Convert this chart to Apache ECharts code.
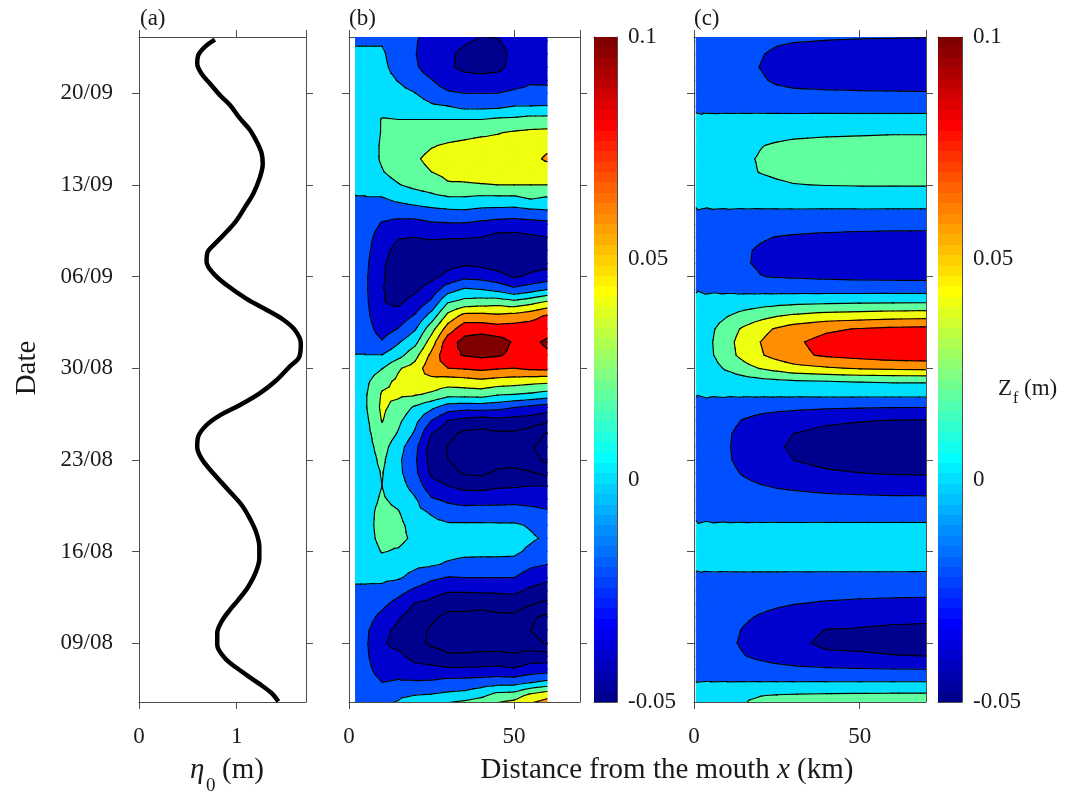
<!DOCTYPE html>
<html><head><meta charset="utf-8">
<script src="https://cdn.jsdelivr.net/npm/echarts@6.0.0/dist/echarts.min.js"></script>
<style>html,body{margin:0;padding:0;background:#fff;}#chart{width:1065px;height:797px;}</style>
</head><body><div id="chart"></div>
<script>
// ---------------- DATA ----------------
// Time is counted in days of August (1 Sep = 32).
const dateTickDays   = [9, 16, 23, 30, 37, 44, 51];
const dateTickLabels = ['09/08', '16/08', '23/08', '30/08', '06/09', '13/09', '20/09'];

// Panel (a): eta_0 (m) against time
const etaDay = [4.54,5.18,5.94,6.83,7.85,8.87,9.76,10.65,11.54,12.3,13.3,14.46,15.48,16.37,17.5,18.5,19.55,20.7,21.97,23.1,24.0,24.77,25.66,26.4,27.19,28.1,29.1,30.1,30.9,31.9,32.9,33.7,34.45,35.3,36.35,37.25,38.14,38.8,39.5,40.55,41.3,42.3,43.35,44.6,45.6,46.4,47.3,48.2,49.08,50.1,50.86,51.75,52.5,53.3,53.9,54.55,55.1];
const etaVal = [1.427,1.358,1.222,1.051,0.88,0.801,0.801,0.846,0.931,1.017,1.119,1.198,1.232,1.232,1.198,1.136,1.051,0.914,0.76,0.64,0.596,0.606,0.692,0.828,1.034,1.239,1.41,1.54,1.643,1.657,1.598,1.478,1.308,1.102,0.897,0.76,0.692,0.699,0.777,0.914,1.0,1.085,1.171,1.239,1.267,1.256,1.205,1.136,1.034,0.931,0.828,0.726,0.64,0.596,0.606,0.675,0.777];

// Grid rows (days), shared by panels (b) and (c): 56 down to 4
const gridDays = [56,55,54,53,52,51,50,49,48,47,46,45,44,43,42,41,40,39,38,37,36,35,34,33,32,31,30,29,28,27,26,25,24,23,22,21,20,19,18,17,16,15,14,13,12,11,10,9,8,7,6,5,4];

// Panel (b): Z_f in mm, one array per distance x (km), values for gridDays
const xB = [2,5,10,15,20,25,30,35,40,45,50,55,60];
const zfB_x02 = [-4,-2,3,2,3,3,4,5,6,7,7,6,4,-1,-3,-5,-7,-8,-9,-10,-10,-9,-8,-6,-3,0.3,5,9,11,11,10,9,8,7,7,7,8,8,8,8,6,3,1,-1,-4,-7,-9,-10,-9,-8,-6,-4,-3];
const zfB_x05 = [-5,-2,3,3,4,5,6,8,10,11,11,10,6,-1,-5,-9,-12,-14,-16,-17,-17,-16,-14,-10,-5,0.3,8,15,18,18,15,13,12,11,11,12,13,14,14,13,10,5,2,-2,-7,-12,-16,-17,-16,-13,-9,-6,-5];
const zfB_x10 = [-6,-2,3,5,7,9,12,21,21,22,22,19,12,-1,-12,-22,-30,-34,-37,-38,-39,-39,-36,-30,-18,0.3,19,34,42,44,41,34,28,24,21,20,22,25,26,25,21,12,4,-5,-15,-25,-34,-38,-36,-30,-20,-8,3];
const zfB_x15 = [-12,-12,-11,-8,-1,6,14,20,25,28,29,27,19,5,-10,-27,-39,-46,-50,-51,-48,-43,-32,-19,-2,13,38,44,44,32,24,18,8,4,5,9,15,21,25,25,18,8,2,-13,-27,-38,-45,-45,-36,-26,-18,-3,5];
const zfB_x20 = [-16,-18,-19,-17,-10,0.5,10,20,28,34,38,35,25,10,-8,-28,-40,-48,-52,-50,-43,-33,-18,-2,14,33,48,55,42,17,6,-3,-14,-17,-15,-8,2,6,12,16,10,4,-6,-24,-41,-50,-55,-54,-46,-34,-18,0.3,18];
const zfB_x25 = [-27,-29,-32,-31,-19,-10,3,20,30,39,44,40,30,14,-5,-23,-38,-48,-52,-45,-32,-15,8,32,50,65,74,52,37,4,-20,-40,-49,-48,-44,-32,-18,-2,6,10,7,2,-16,-33,-45,-57,-62,-63,-52,-34,-17,2,30];
const zfB_x30 = [-30,-33,-37,-38,-32,-17,0.5,20,33,42,46,45,38,18,-3,-22,-39,-48,-46,-35,-8,20,46,70,92,96,80,50,27,-10,-40,-55,-61,-60,-54,-40,-24,-11,3,8,5,-2,-21,-38,-54,-64,-68,-66,-58,-37,-13,5,32];
const zfB_x35 = [-33,-38,-44,-43,-35,-20,-5,20,35,44,48,47,38,18,-2,-22,-39,-50,-43,-25,3,28,67,92,106,101,82,52,28,-13,-46,-64,-68,-67,-62,-46,-28,-12,3,8,5,-6,-20,-38,-54,-64,-68,-66,-58,-37,-12,7,40];
const zfB_x40 = [-38,-42,-47,-45,-35,-20,-5,20,37,46,50,49,39,16,-5,-25,-40,-54,-45,-27,0.5,31,67,92,112,104,85,55,29,-12,-50,-66,-70,-69,-64,-47,-27,-12,3,8,5,-7,-20,-37,-55,-66,-70,-68,-56,-36,-10,15,45];
const zfB_x45 = [-35,-41,-46,-44,-34,-20,-4,23,39,46,50,49,40,16,-6,-28,-46,-58,-50,-33,-5,33,64,89,108,102,82,52,22,-14,-46,-63,-68,-67,-57,-43,-26,-13,3,8,5,-7,-20,-37,-52,-64,-68,-67,-56,-35,-8,28,50];
const zfB_x50 = [-35,-35,-36,-35,-30,-16,0.5,24,42,49,52,50,40,16,-7,-30,-46,-56,-55,-42,-15,28,67,90,98,96,80,50,20,-20,-48,-63,-70,-68,-55,-42,-25,-13,3,8,4,-7,-20,-36,-50,-64,-72,-70,-57,-38,-8,30,58];
const zfB_x55 = [-30,-29,-28,-26,-23,-14,0.5,27,44,52,56,52,40,22,-4,-28,-43,-50,-47,-37,-8,35,73,90,97,94,84,47,17,-25,-50,-68,-78,-74,-58,-40,-26,-15,-2,3,-4,-16,-30,-44,-58,-77,-80,-74,-50,-32,-1,46,70];
const zfB_x60 = [-30,-30,-28,-26,-23,-15,1,27,45,57,62,53,40,18,-2,-26,-40,-50,-46,-32,0.5,45,82,95,102,98,85,45,12,-30,-56,-82,-88,-84,-65,-40,-27,-18,-9,-3,-12,-20,-36,-48,-65,-84,-88,-82,-50,-30,5,55,75];

// Panel (c): Z_f in mm, one row per gridDays entry, columns at xC (km)
const xC = [0.7,5,10,15,20,25,30,40,50,60,70];
const zfC_rows = [
  [-0.5,-3.2,-6.1,-9.5,-11.9,-14.5,-15.6,-16.3,-16.7,-16.8,-17],
  [-0.6,-4,-7.6,-11.8,-14.7,-17.9,-19.3,-20.2,-20.6,-20.8,-21],
  [-0.8,-5.1,-9.7,-15.1,-18.9,-23,-24.8,-25.9,-26.5,-26.7,-27],
  [-0.9,-5.5,-10.4,-16.2,-20.3,-24.7,-26.7,-27.8,-28.4,-28.7,-29],
  [-0.8,-4.9,-9.4,-14.6,-18.2,-22.1,-23.9,-25,-25.5,-25.7,-26],
  [-0.6,-3.6,-6.8,-10.6,-13.3,-16.2,-17.5,-18.2,-18.6,-18.8,-19],
  [-0.2,-1.5,-2.9,-4.5,-5.6,-6.8,-7.4,-7.7,-7.8,-7.9,-8],
  [0.2,1.3,2.5,4,5,5.8,6.3,6.6,6.8,6.9,7],
  [0.6,4,8,12,15,16,17,18,18.5,19,19],
  [0.8,6,11,16,19.5,21.5,23,24,24.5,25,25],
  [0.8,6,12,18,21,23.5,25,26,26.5,27,27],
  [0.8,6,11,17,20.5,22.5,24,25,25.5,26,26],
  [0.6,5,9,13,16,18,19.5,20.5,21,21,21],
  [0.3,1.9,3.6,5.8,7.2,8.1,8.7,9.3,9.7,9.9,10],
  [-0.1,-0.4,-0.7,-1.2,-1.5,-1.6,-1.7,-1.9,-1.9,-2,-2],
  [-0.5,-2.9,-5.4,-9,-11,-12.3,-13,-14,-14.6,-14.9,-15],
  [-0.8,-4.8,-9,-15,-18.3,-20.5,-21.8,-23.3,-24.3,-24.8,-25],
  [-0.9,-5.7,-10.8,-18,-21.9,-24.6,-26.1,-27.9,-29.1,-29.7,-30],
  [-0.9,-5.8,-11,-18.3,-22.3,-25,-26.5,-28.4,-29.6,-30.2,-30.5],
  [-0.8,-4.8,-9,-15,-19.5,-21,-21.8,-23.3,-24.3,-24.8,-25],
  [-0.2,-1.5,-2.9,-4.8,-5.8,-6.6,-7,-7.4,-7.8,-7.9,-8],
  [0.6,3.8,7.2,10,12.6,14.6,16.2,18,19,19.8,20],
  [1.6,10,19,27,33,39,43,48,50,52,53],
  [2.6,16,31,43,54,62,69,77,81,84,85],
  [2.9,18,34,48,60,69,77,86,90,94,95],
  [2.8,17,33,46,58,67,75,83,87,91,92],
  [2,12,23,33,41,47,53,58,62,64,65],
  [0.7,4,8,11,14,16,18,20,21,22,22],
  [0.15,1,1.8,2.5,3.2,3.7,4,4.5,4.8,5,5],
  [-0.6,-3.8,-7,-10.4,-13,-14.8,-16,-18,-19,-19.8,-20],
  [-1.2,-7.8,-14.4,-21.3,-26.7,-30.3,-32.8,-36.9,-39,-40.6,-41],
  [-1.5,-9.5,-17.5,-26,-32.5,-37,-40,-45,-47.5,-49.5,-50],
  [-1.6,-9.9,-18.2,-27,-33.8,-38.5,-41.6,-46.8,-49.4,-51.5,-52],
  [-1.5,-9.5,-17.5,-26,-32.5,-37,-40,-45,-47.5,-49.5,-50],
  [-1.3,-8,-14.7,-21.8,-27.3,-31.1,-33.6,-37.8,-39.9,-41.6,-42],
  [-0.9,-5.5,-10.2,-15.1,-18.9,-21.5,-23.2,-26.1,-27.6,-28.7,-29],
  [-0.5,-3.2,-6,-8.8,-11,-12.6,-13.6,-15.3,-16.2,-16.8,-17],
  [-0.2,-1.3,-2.5,-3.6,-4.6,-5.2,-5.6,-6.3,-6.7,-6.9,-7],
  [0.1,0.4,0.7,1,1.3,1.5,1.6,1.8,1.9,2,2],
  [0.3,1.9,3.5,5,6.5,7.4,8,9,9.5,9.9,10],
  [0.4,2.3,4.2,6.2,7.8,8.9,9.6,10.8,11.4,11.9,12],
  [0.2,1.1,2.1,3,3.9,4.4,4.8,5.4,5.7,5.9,6],
  [-0.2,-0.9,-1.7,-2.4,-3,-3.5,-3.9,-4.4,-4.7,-4.9,-5],
  [-0.5,-2.7,-5.1,-7.2,-9,-10.5,-11.7,-13.2,-14.1,-14.7,-15],
  [-0.8,-4.5,-8.5,-12,-15,-17.5,-19.5,-22,-23.5,-24.5,-25],
  [-1.1,-6.5,-12.2,-17.3,-21.6,-25.2,-28,-31.7,-33.8,-35.3,-36],
  [-1.3,-7.9,-15,-21.1,-26.4,-30.8,-34.3,-40.5,-41.4,-43.1,-44],
  [-1.4,-8.5,-16,-22.6,-28.2,-32.9,-36.7,-43,-44.2,-46.1,-47],
  [-1.2,-7.2,-13.6,-19.2,-24,-28,-31.2,-37,-37.6,-39.2,-40],
  [-0.6,-3.6,-6.8,-9.6,-12,-14,-15.6,-17.6,-18.8,-19.6,-20],
  [0.03,0.2,0.35,0.5,0.6,0.7,0.8,0.9,0.95,1,1],
  [0.7,9,14,17,19.5,21,22,23,23.5,24,24],
  [1,12,19,21,28,30,32,33.5,34,35,35]
];

// Contour levels (mm) and colour-bar ticks (m)
const contourLevels = [-100,-80,-60,-40,-20,0,20,40,60,80,100,120];
const fillLevels = [-40,-20,0,20,40,60,80,100];
const cbTicks = [-0.05, 0, 0.05, 0.1];

// ---------------- helpers ----------------
const FONT = "'Liberation Serif','Times New Roman',serif";
const AX = '#4d4d4d';
const TXT = '#1a1a1a';
const CLIM = [-0.05, 0.1];

function jet64(k) {
  let r, g, b;
  if (k <= 8) { r = 0; g = 0; b = 0.5 + 0.0625 * k; }
  else if (k <= 24) { r = 0; g = (k - 8) * 0.0625; b = 1; }
  else if (k <= 40) { r = (k - 24) * 0.0625; g = 1; b = 1 - (k - 24) * 0.0625; }
  else if (k <= 56) { r = 1; g = 1 - (k - 40) * 0.0625; b = 0; }
  else { r = 1 - (k - 56) * 0.0625; g = 0; b = 0; }
  return 'rgb(' + Math.round(r * 255) + ',' + Math.round(g * 255) + ',' + Math.round(b * 255) + ')';
}
function levelColor(mm) {
  const t = (mm / 1000 - CLIM[0]) / (CLIM[1] - CLIM[0]);
  let k = Math.floor(t * 64 + 1e-9) + 1;
  k = Math.max(1, Math.min(64, k));
  return jet64(k);
}
const FILL_BANDS = [{ lo: -Infinity, hi: fillLevels[0], color: levelColor(-60) }];
fillLevels.forEach((lo, k) => {
  FILL_BANDS.push({ lo: lo, hi: k + 1 < fillLevels.length ? fillLevels[k + 1] : Infinity, color: levelColor(lo) });
});

function clipPoly(poly, level, keepAbove) {
  const out = [];
  for (let i = 0; i < poly.length; i++) {
    const P = poly[i], Q = poly[(i + 1) % poly.length];
    const pin = keepAbove ? P[2] >= level : P[2] <= level;
    const qin = keepAbove ? Q[2] >= level : Q[2] <= level;
    if (pin) out.push(P);
    if (pin !== qin) {
      const f = (level - P[2]) / (Q[2] - P[2]);
      out.push([P[0] + f * (Q[0] - P[0]), P[1] + f * (Q[1] - P[1]), level]);
    }
  }
  return out;
}

function contourSeries(xs, ts, grid, xi, yi, kind) {
  const data = [];
  for (let j = 0; j < ts.length - 1; j++)
    for (let i = 0; i < xs.length - 1; i++) data.push([xs[i], ts[j], i, j]);
  return {
    type: 'custom', xAxisIndex: xi, yAxisIndex: yi, clip: true, silent: true,
    animation: false, progressive: 0, z: kind === 'fill' ? 2 : 3,
    encode: { x: 0, y: 1 }, data: data,
    renderItem: function (params, api) {
      const i = api.value(2), j = api.value(3);
      const P = (a, b) => [xs[a], ts[b], grid[b][a]];
      const p00 = P(i, j), p10 = P(i + 1, j), p11 = P(i + 1, j + 1), p01 = P(i, j + 1);
      const c = [(p00[0] + p10[0]) / 2, (p00[1] + p01[1]) / 2, (p00[2] + p10[2] + p11[2] + p01[2]) / 4];
      const tris = [[p00, p10, c], [p10, p11, c], [p11, p01, c], [p01, p00, c]];
      const toPx = p => api.coord([p[0], p[1]]);
      const children = [];
      if (kind === 'fill') {
        tris.forEach(tri => {
          FILL_BANDS.forEach(band => {
            let poly = tri;
            if (band.lo > -Infinity) poly = clipPoly(poly, band.lo, true);
            if (poly.length < 3) return;
            if (band.hi < Infinity) poly = clipPoly(poly, band.hi, false);
            if (poly.length < 3) return;
            children.push({ type: 'polygon', shape: { points: poly.map(toPx) },
              style: { fill: band.color, stroke: band.color, lineWidth: 1.1, lineJoin: 'round' } });
          });
        });
      } else {
        tris.forEach(tri => {
          contourLevels.forEach(L => {
            const pts = [];
            for (let e = 0; e < 3; e++) {
              const A = tri[e], B = tri[(e + 1) % 3];
              if ((A[2] < L) !== (B[2] < L)) {
                const f = (L - A[2]) / (B[2] - A[2]);
                pts.push([A[0] + f * (B[0] - A[0]), A[1] + f * (B[1] - A[1])]);
              }
            }
            if (pts.length === 2) {
              const a = toPx(pts[0]), b = toPx(pts[1]);
              children.push({ type: 'line', shape: { x1: a[0], y1: a[1], x2: b[0], y2: b[1] },
                style: { stroke: '#000', lineWidth: 1.15, lineCap: 'round' } });
            }
          });
        });
      }
      return { type: 'group', children: children };
    }
  };
}

// grids built from the named arrays
const colsB = [zfB_x02, zfB_x05, zfB_x10, zfB_x15, zfB_x20, zfB_x25, zfB_x30, zfB_x35, zfB_x40, zfB_x45, zfB_x50, zfB_x55, zfB_x60];
const gridB = gridDays.map((d, j) => colsB.map(col => col[j]));
const gridC = zfC_rows;

function dateLabel(v) {
  const k = dateTickDays.indexOf(Math.round(v));
  return k >= 0 ? dateTickLabels[k] : '';
}

// ---------------- axes ----------------
const DMIN = 4.5, DMAX = 55.3;
const TOP = 37, H = 665;
const panels = [
  { left: 139, width: 167 },   // a
  { left: 349, width: 231 },   // b
  { left: 594, width: 23 },    // colour bar b
  { left: 694, width: 232 },   // c
  { left: 938, width: 24 }     // colour bar c
];
const grids = panels.map(p => ({ left: p.left, width: p.width, top: TOP, height: H, containLabel: false, outerBoundsMode: 'none' }));

const line = { show: true, onZero: false, lineStyle: { color: AX, width: 1 } };
const tickOut = { show: true, length: 7, lineStyle: { color: AX, width: 1 } };
const labelFont = { color: TXT, fontFamily: FONT, fontSize: 23 };

const xAxes = [], yAxes = [];
function addX(gi, min, max, interval, withLabels, ticks) {
  ['bottom', 'top'].forEach(pos => {
    xAxes.push({
      gridIndex: gi, type: 'value', position: pos, min: min, max: max, interval: interval,
      axisLine: line, splitLine: { show: false },
      axisTick: ticks ? tickOut : { show: false },
      axisLabel: (withLabels && pos === 'bottom') ? Object.assign({ show: true, margin: 23, showMaxLabel: false }, labelFont) : { show: false }
    });
  });
}
function addYDates(gi, withLabels) {
  ['left', 'right'].forEach(pos => {
    yAxes.push({
      gridIndex: gi, type: 'value', position: pos, min: DMIN, max: DMAX,
      axisLine: line, splitLine: { show: false },
      axisTick: Object.assign({ customValues: dateTickDays }, tickOut),
      axisLabel: (withLabels && pos === 'left') ?
        Object.assign({ show: true, customValues: dateTickDays, margin: 26, formatter: dateLabel }, labelFont) :
        { show: false }
    });
  });
}
function addYBar(gi) {
  yAxes.push({ gridIndex: gi, type: 'value', position: 'left', min: CLIM[0], max: CLIM[1], interval: 0.05,
    axisLine: line, splitLine: { show: false }, axisTick: { show: false }, axisLabel: { show: false } });
  yAxes.push({ gridIndex: gi, type: 'value', position: 'right', min: CLIM[0], max: CLIM[1], interval: 0.05,
    axisLine: line, splitLine: { show: false },
    axisTick: { show: true, inside: true, length: 7, lineStyle: { color: AX } },
    axisLabel: Object.assign({ show: true, margin: 11, formatter: v => {
      const r = Math.round(v * 100) / 100; return r === 0 ? '0' : String(r); } }, labelFont) });
}
addX(0, 0, 1.71, 1, true, true);   addYDates(0, true);   // axes 0,1
addX(1, 0, 70, 50, true, true);    addYDates(1, false);  // 2,3
addX(2, 0, 1, 1, false, false);    addYBar(2);           // 4,5
addX(3, 0, 70, 50, true, true);    addYDates(3, false);  // 6,7
addX(4, 0, 1, 1, false, false);    addYBar(4);           // 8,9

// colour-bar gradient (jet, 64 steps, top = max)
const cbStops = [];
for (let s = 0; s < 64; s++) {
  const col = jet64(64 - s);
  cbStops.push({ offset: s / 64, color: col });
  cbStops.push({ offset: Math.min(1, (s + 1) / 64 - 1e-6), color: col });
}
function colorBarSeries(xi, yi) {
  return {
    type: 'custom', xAxisIndex: xi, yAxisIndex: yi, silent: true, animation: false, z: 1,
    data: [[0, CLIM[0]]], encode: { x: 0, y: 1 },
    renderItem: function (params, api) {
      const a = api.coord([0, CLIM[1]]), b = api.coord([1, CLIM[0]]);
      return { type: 'rect', shape: { x: a[0], y: a[1], width: b[0] - a[0], height: b[1] - a[1] },
        style: { fill: new echarts.graphic.LinearGradient(0, 0, 0, 1, cbStops) } };
    }
  };
}

const series = [
  { type: 'line', xAxisIndex: 0, yAxisIndex: 0, data: etaDay.map((d, k) => [etaVal[k], d]),
    showSymbol: false, smooth: 0.35, lineStyle: { color: '#000', width: 4.5 }, silent: true, animation: false, z: 3 },
  contourSeries(xB, gridDays, gridB, 2, 2, 'fill'),
  contourSeries(xB, gridDays, gridB, 2, 2, 'line'),
  contourSeries(xC, gridDays, gridC, 6, 6, 'fill'),
  contourSeries(xC, gridDays, gridC, 6, 6, 'line'),
  colorBarSeries(4, 5),
  colorBarSeries(8, 9)
];

const txt = (x, y, text, size, extra) => Object.assign({ type: 'text', x: x, y: y, silent: true,
  style: Object.assign({ text: text, fontSize: size, fontFamily: FONT, fill: TXT, align: 'left', verticalAlign: 'middle' }, extra || {}) });

const graphic = [
  txt(140, 19, '(a)', 23),
  txt(349, 19, '(b)', 23),
  txt(694, 19, '(c)', 23),
  Object.assign(txt(27, 368, 'Date', 29, { align: 'center' }), { rotation: Math.PI / 2 }),
  txt(190, 770, 'η', 29, { fontStyle: 'italic' }),
  txt(206, 786, '0', 19),
  txt(222, 770, '(m)', 29),
  { type: 'text', x: 667, y: 770, silent: true, style: {
      text: 'Distance from the mouth {i|x} (km)', fontSize: 29, fontFamily: FONT, fill: TXT,
      align: 'center', verticalAlign: 'middle',
      rich: { i: { fontStyle: 'italic', fontSize: 29, fontFamily: FONT, fill: TXT } } } },
  txt(998, 389, 'Z', 23),
  txt(1013, 399, 'f', 16),
  txt(1024, 389, '(m)', 23)
];

const chart = echarts.init(document.getElementById('chart'), null, { renderer: 'canvas' });
chart.setOption({
  animation: false,
  backgroundColor: '#fff',
  grid: grids,
  xAxis: xAxes,
  yAxis: yAxes,
  series: series,
  graphic: graphic
});
</script></body></html>
